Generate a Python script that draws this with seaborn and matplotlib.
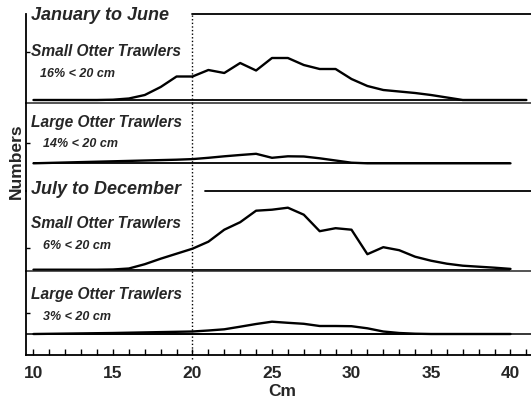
import numpy as np
import pandas as pd
import matplotlib
matplotlib.use("Agg")
import matplotlib.pyplot as plt
import seaborn as sns

# ---------------- data ----------------
cm_41 = list(range(10, 42))
cm_40 = list(range(10, 41))

small_jan_jun = [0, 0, 0, 0, 0, 0.3, 1.5, 5, 13, 23.5, 23.5, 30, 27, 37, 29.5, 42,
                 42, 35, 31, 31, 21, 14, 10, 8.5, 7, 5, 2.5, 0, 0, 0, 0, 0]
large_jan_jun = [0, 0.4, 0.8, 1.2, 1.6, 2, 2.4, 2.8, 3.2, 3.6, 4.2, 5.5, 7, 8.3, 9.5, 5.5,
                 7, 6.8, 5, 2.8, 0.6, 0, 0, 0, 0, 0, 0, 0, 0, 0, 0]
small_jul_dec = [0, 0, 0, 0, 0, 0.2, 1.2, 5.5, 11, 16, 21, 28, 40, 47.5, 59, 60,
                 62, 55, 38.5, 41.5, 40, 15.5, 22.5, 19.5, 13, 9, 6, 4, 3, 2, 0.8]
large_jul_dec = [0, 0.2, 0.4, 0.6, 0.8, 1, 1.3, 1.6, 1.9, 2.2, 2.5, 3.5, 4.7, 7.3, 10, 12.3,
                 11.2, 10.2, 8, 8, 7.8, 5.7, 2.5, 1, 0.3, 0, 0, 0, 0, 0, 0]

period_titles = ["January to June", "July to December"]
fleet_labels = ["Small Otter Trawlers", "Large Otter Trawlers",
                "Small Otter Trawlers", "Large Otter Trawlers"]
pct_labels = ["16% < 20 cm", "14% < 20 cm", "6% < 20 cm", "3% < 20 cm"]
cutoff_cm = 20
xtick_values = list(range(10, 42))

# ---------------- style ----------------
sns.set_style("white")
plt.rcParams['font.family'] = ['Liberation Sans', 'DejaVu Sans']

W, H = 531, 399
fig = plt.figure(figsize=(W / 100, H / 100), dpi=100)


def fx(px):
    return px / W


def fy(py):
    return 1 - py / H


X0, X1 = 9.53, 41.29
LEFT, RIGHT = 26, 531
# (top px, bottom px, baseline px) for each panel
panels = [(14, 103, 100), (103, 191, 163.3), (191, 271, 269.7), (271, 355, 334)]
series = [(cm_41, small_jan_jun), (cm_40, large_jan_jun),
          (cm_40, small_jul_dec), (cm_40, large_jul_dec)]
ytick_h = [48, 20, 21.5, 21]

axes = []
for i, ((top, bot, base), (xs, ys)) in enumerate(zip(panels, series)):
    ax = fig.add_axes([fx(LEFT), fy(bot), fx(RIGHT) - fx(LEFT), (bot - top) / H])
    ax.set_facecolor('none')
    df = pd.DataFrame({"cm": xs, "n": ys})
    sns.lineplot(data=df, x="cm", y="n", ax=ax, color="black", lw=1.7,
                 estimator=None, sort=False, legend=False)
    ax.hlines(0, min(xs), max(xs), color="black", lw=1.3)
    ax.set_xlim(X0, X1)
    ax.set_ylim(-(bot - base), base - top)
    for s in ax.spines.values():
        s.set_visible(False)
    ax.spines['left'].set_visible(True)
    ax.spines['left'].set_linewidth(1.3)
    ax.spines['left'].set_color('black')
    ax.set_yticks([ytick_h[i]])
    ax.set_yticklabels([])
    ax.tick_params(axis='y', direction='in', length=3, width=1, color='black', left=True)
    ax.set_xlabel("")
    ax.set_ylabel("")
    ax.axvline(cutoff_cm, color="black", lw=1.0, linestyle=(0, (1, 1.6)),
               ymin=(-0.05 if i == 3 else 0), ymax=1, clip_on=False)
    if i < 3:
        ax.set_xticks([])
    axes.append(ax)

ax1, ax2, ax3, ax4 = axes
# dividers / frame lines
frac = lambda v: (v - X0) / (X1 - X0)
ax1.axhline(ax1.get_ylim()[1], xmin=frac(20.0), xmax=1, color='black', lw=1.3, clip_on=False)
ax1.spines['bottom'].set_visible(True)
ax1.spines['bottom'].set_linewidth(1.1)
ax2.axhline(ax2.get_ylim()[0], xmin=frac(20.8), xmax=1, color='black', lw=1.3, clip_on=False)
ax3.spines['bottom'].set_visible(True)
ax3.spines['bottom'].set_linewidth(1.1)
ax4.axhline(0, color='black', lw=1.1)
ax4.spines['bottom'].set_visible(True)
ax4.spines['bottom'].set_linewidth(1.3)
ax4.spines['bottom'].set_color('black')

ax4.set_xticks(xtick_values)
ax4.set_xticklabels([str(v) if v % 5 == 0 else "" for v in xtick_values])
ax4.tick_params(axis='x', direction='in', length=4, width=1, color='black',
                labelsize=12.5, pad=8, bottom=True)
for lbl in ax4.get_xticklabels():
    lbl.set_fontweight('bold')

# texts
title_kw = dict(fontsize=13, fontweight='bold', style='italic', va='center', ha='left')
fleet_kw = dict(fontsize=11.2, fontweight='bold', style='italic', va='center', ha='left')
pct_kw = dict(fontsize=9, fontweight='bold', style='italic', va='center', ha='left')

fig.text(fx(31), fy(16), period_titles[0], **title_kw)
fig.text(fx(31), fy(190), period_titles[1], **title_kw)
fleet_y = [52, 122, 224, 294]
pct_y = [74, 144, 246, 317]
pct_x = [40, 43, 43, 43]
for i in range(4):
    fig.text(fx(31), fy(fleet_y[i]), fleet_labels[i], **fleet_kw)
    fig.text(fx(pct_x[i]), fy(pct_y[i]), pct_labels[i], **pct_kw)

fig.text(fx(282), fy(391), "Cm", fontsize=12.5, fontweight='bold', ha='center', va='center')
fig.text(fx(16), fy(161), "Numbers", fontsize=12.5, fontweight='bold', rotation=90,
         ha='center', va='center')

fig.savefig("out.png", dpi=100)
